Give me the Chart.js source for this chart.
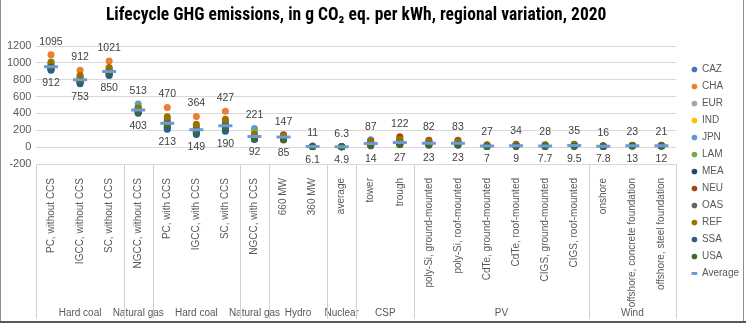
<!DOCTYPE html>
<html>
<head>
<meta charset="utf-8">
<title>Lifecycle GHG emissions</title>
<script src="https://cdn.jsdelivr.net/npm/chart.js@4.4.1/dist/chart.umd.min.js"></script>
<style>
  html, body { margin: 0; padding: 0; background: #fff; }
  #wrap { width: 746px; height: 331px; position: relative; }
</style>
</head>
<body>
<div id="wrap"><canvas id="ghg"></canvas></div>
<script>
// categories (second level = technology group)
var categories = ['PC, without CCS', 'IGCC, without CCS', 'SC, without CCS', 'NGCC, without CCS',
  'PC, with CCS', 'IGCC, with CCS', 'SC, with CCS', 'NGCC, with CCS', '660 MW', '360 MW', 'average',
  'tower', 'trough', 'poly-Si, ground-mounted', 'poly-Si, roof-mounted', 'CdTe, ground-mounted',
  'CdTe, roof-mounted', 'CIGS, ground-mounted', 'CIGS, roof-mounted', 'onshore',
  'offshore, concrete foundation', 'offshore, steel foundation'];
var groupNames = ['Hard coal', 'Natural gas', 'Hard coal', 'Natural gas', 'Hydro', 'Nuclear', 'CSP', 'PV', 'Wind'];
var groupSizes = [3, 1, 3, 1, 2, 1, 2, 6, 3];

// regional values, g CO2 eq. per kWh
var caz = [925, 765, 862, 425, 240, 170, 215, 110, 110, 8.0, 5.3, 35, 42, 38, 38, 12, 15, 12.5, 15.5, 10, 16, 15];
var cha = [1095, 912, 1021, 455, 470, 364, 427, 140, 140, 10.4, 6.0, 60, 100, 68, 69, 22, 28, 23, 29, 13.5, 20, 18.5];
var eur = [960, 800, 895, 440, 290, 210, 262, 125, 116, 8.4, 5.5, 45, 58, 46, 47, 15, 19, 16, 20, 11, 17, 16];
var ind = [1000, 840, 935, 470, 340, 255, 310, 165, 121, 8.9, 5.8, 50, 68, 52, 53, 17, 21, 18, 22, 12, 18, 17];
var jpn = [945, 790, 885, 513, 275, 196, 246, 221, 118, 8.6, 5.6, 87, 62, 48, 49, 16, 20, 17, 21, 11.5, 17.5, 16.5];
var lam = [935, 780, 875, 485, 262, 185, 232, 180, 90, 6.6, 5.0, 14, 27, 23, 23, 7, 9, 7.7, 9.5, 7.8, 13, 12];
var mea = [930, 772, 868, 415, 230, 165, 205, 100, 108, 7.8, 5.2, 30, 38, 34, 34, 11, 14, 11.5, 14.5, 9.5, 15.5, 14.5];
var neu = [955, 795, 890, 430, 282, 202, 252, 116, 147, 11, 6.3, 72, 122, 82, 83, 27, 34, 28, 35, 16, 23, 21];
var oas = [985, 830, 925, 460, 320, 240, 296, 146, 126, 9.2, 5.9, 55, 78, 58, 59, 19, 24, 20, 25, 12.5, 19, 17.5];
var ref = [1010, 850, 945, 450, 360, 272, 330, 150, 131, 9.6, 5.7, 65, 90, 64, 65, 21, 26, 22, 27, 13, 19.5, 18];
var ssa = [912, 753, 850, 403, 213, 149, 190, 92, 100, 7.2, 5.1, 25, 33, 29, 29, 9, 11, 9.5, 12, 8.8, 14.5, 13.5];
var usa = [950, 788, 884, 420, 270, 190, 240, 106, 85, 6.1, 4.9, 20, 30, 26, 26, 8, 10, 8.5, 10.5, 8.2, 13.8, 12.8];
var average = [955, 800, 897, 440, 283, 205, 255, 127, 119, 8.3, 5.5, 42, 55, 45, 45, 15, 18, 15, 19, 11, 17, 16];

// labels printed above the highest and below the lowest region
var maxValues = [1095, 912, 1021, 513, 470, 364, 427, 221, 147, 11, 6.3, 87, 122, 82, 83, 27, 34, 28, 35, 16, 23, 21];
var minValues = [912, 753, 850, 403, 213, 149, 190, 92, 85, 6.1, 4.9, 14, 27, 23, 23, 7, 9, 7.7, 9.5, 7.8, 13, 12];

var regionNames = ['CAZ', 'CHA', 'EUR', 'IND', 'JPN', 'LAM', 'MEA', 'NEU', 'OAS', 'REF', 'SSA', 'USA'];
var regionData = [caz, cha, eur, ind, jpn, lam, mea, neu, oas, ref, ssa, usa];
var regionColors = ['#4472C4', '#ED7D31', '#A5A5A5', '#FFC000', '#5B9BD5', '#70AD47',
  '#264478', '#9E480E', '#636363', '#997300', '#255E91', '#43682B'];

var textColor = '#595959';
var fontFamily = 'Arial, "Liberation Sans", sans-serif';

var datasets = [];
for (var i = 0; i < regionNames.length; i++) {
  datasets.push({
    label: regionNames[i],
    data: regionData[i],
    showLine: false,
    pointStyle: 'circle',
    pointRadius: 3.5,
    pointHoverRadius: 3.5,
    pointBorderWidth: 0,
    backgroundColor: regionColors[i],
    borderColor: regionColors[i],
    order: 13 - i
  });
}
datasets.push({
  label: 'Average',
  data: average,
  showLine: false,
  pointStyle: 'line',
  pointRadius: 7,
  pointHoverRadius: 7,
  borderWidth: 3,
  pointBorderWidth: 3,
  backgroundColor: '#6A9BD8',
  borderColor: '#6A9BD8',
  order: 0
});

// min/max labels, group axis and frame
var extras = {
  id: 'extras',
  afterLayout: function (chart) {
    // push the legend a little to the right, like the original
    if (chart.legend) {
      chart.legend.left += 9;
      chart.legend.right += 9;
    }
  },
  afterDraw: function (chart) {
    var ctx = chart.ctx;
    var x = chart.scales.x;
    var y = chart.scales.y;
    var area = chart.chartArea;

    ctx.save();
    ctx.font = '10.5px ' + fontFamily;
    ctx.fillStyle = '#404040';
    ctx.textAlign = 'center';
    ctx.textBaseline = 'middle';
    for (var i = 0; i < categories.length; i++) {
      var px = x.getPixelForValue(i);
      ctx.fillText(String(maxValues[i]), px, y.getPixelForValue(maxValues[i]) - 13);
      ctx.fillText(String(minValues[i]), px, y.getPixelForValue(minValues[i]) + 13);
    }

    // group separators and group names
    var bottom = 319;
    var step = (x.right - x.left) / categories.length;
    ctx.strokeStyle = '#d0d0d0';
    ctx.lineWidth = 1;
    ctx.fillStyle = textColor;
    ctx.font = '10px ' + fontFamily;
    var start = 0;
    var edges = [0];
    for (var g = 0; g < groupSizes.length; g++) {
      var end = start + groupSizes[g];
      edges.push(end);
      var cx = x.left + step * (start + end) / 2;
      ctx.fillText(groupNames[g], cx, 313);
      start = end;
    }
    for (var e = 0; e < edges.length; e++) {
      var ex = Math.round(x.left + step * edges[e]) + 0.5;
      ctx.beginPath();
      ctx.moveTo(ex, area.bottom);
      ctx.lineTo(ex, bottom);
      ctx.stroke();
    }

    // outer frame
    ctx.strokeStyle = '#8c8c8c';
    ctx.beginPath();
    ctx.moveTo(0.5, 0);
    ctx.lineTo(0.5, 321);
    ctx.moveTo(743.5, 0);
    ctx.lineTo(743.5, 321);
    ctx.stroke();
    ctx.strokeStyle = '#595959';
    ctx.lineWidth = 2;
    ctx.beginPath();
    ctx.moveTo(0, 322);
    ctx.lineTo(746, 322);
    ctx.stroke();
    ctx.restore();
  }
};

var ctx = document.getElementById('ghg');
var ghgChart = new Chart(ctx, {
  type: 'line',
  data: {
    labels: categories,
    datasets: datasets
  },
  options: {
    responsive: true,
    maintainAspectRatio: false,
    animation: false,
    devicePixelRatio: 1,
    layout: {
      padding: { left: 2, right: 6, top: 0, bottom: 10 }
    },
    plugins: {
      title: {
        display: true,
        fullSize: false,
        text: 'Lifecycle GHG emissions, in g CO\u2082 eq. per kWh, regional variation, 2020',
        color: '#000',
        font: { family: '"Liberation Sans Narrow", "Roboto Condensed", Arial, sans-serif', size: 17.5, weight: 'bold' },
        padding: { top: 5, bottom: 20 }
      },
      legend: {
        position: 'right',
        title: {
          display: true,
          text: ' ',
          padding: { top: 5, bottom: 5 },
          font: { size: 10 }
        },
        labels: {
          sort: function (a, b) { return a.datasetIndex - b.datasetIndex; },
          usePointStyle: true,
          boxWidth: 5,
          boxHeight: 4,
          padding: 7,
          color: textColor,
          font: { family: fontFamily, size: 10 }
        }
      },
      tooltip: { enabled: false }
    },
    scales: {
      x: {
        offset: true,
        grid: { display: false },
        border: { display: false },
        ticks: {
          autoSkip: false,
          minRotation: 90,
          maxRotation: 90,
          padding: 6,
          color: textColor,
          font: { family: fontFamily, size: 10 }
        },
        afterFit: function (scale) {
          scale.height = 157;
        }
      },
      y: {
        min: -200,
        max: 1200,
        grid: { color: '#d9d9d9', drawTicks: false },
        border: { display: false },
        ticks: {
          stepSize: 200,
          padding: 5,
          color: textColor,
          font: { family: fontFamily, size: 11 },
          callback: function (value) { return String(value); }
        }
      }
    }
  },
  plugins: [extras]
});
</script>
</body>
</html>
